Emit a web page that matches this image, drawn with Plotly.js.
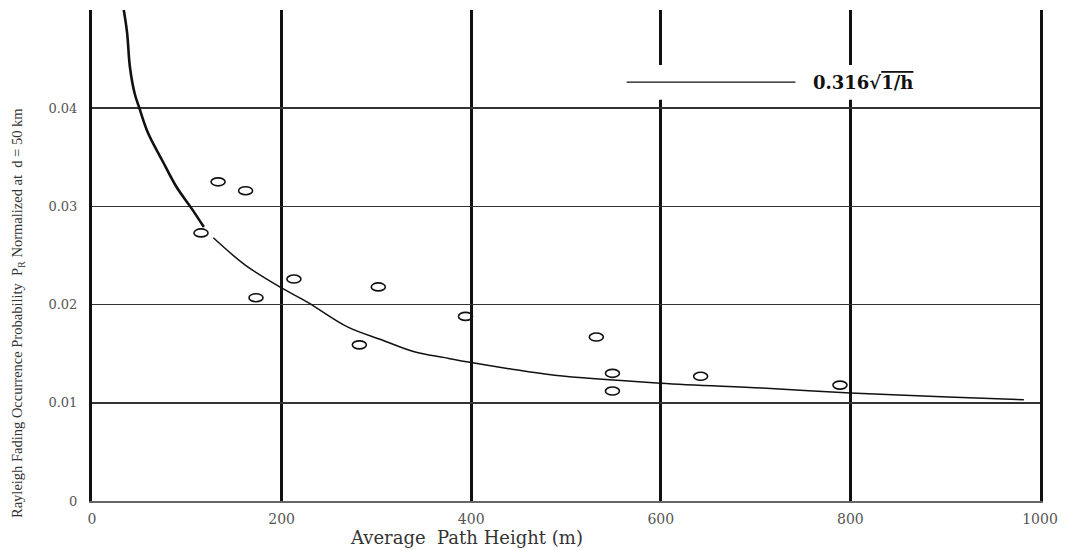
<!DOCTYPE html>
<html>
<head>
<meta charset="utf-8">
<script src="https://cdn.plot.ly/plotly-3.0.1.min.js"></script>
<style>
  html, body { margin: 0; padding: 0; background: #fff; }
  #chart { width: 1075px; height: 550px; }
</style>
</head>
<body>
<div id="chart"></div>
<script>
// Fitted curve, steep part near the ground
const curveUpperH = [33, 37, 40, 45, 50, 59, 74, 89, 105, 118];
const curveUpperP = [0.0503, 0.0477, 0.0442, 0.0415, 0.0400, 0.0375, 0.0347, 0.0320, 0.0298, 0.0279];
// Fitted curve, remaining part
const curveLowerH = [128, 162, 200, 228, 270, 306, 340, 372, 400, 438, 488, 600, 707, 800, 903, 983];
const curveLowerP = [0.0268, 0.0240, 0.0217, 0.0202, 0.0177, 0.0164, 0.0152, 0.0146, 0.0141, 0.0135, 0.0128, 0.0120, 0.0115, 0.0110, 0.0106, 0.0103];

// Measured occurrence probabilities
const pathHeight = [133, 162, 115, 213, 173, 302, 282, 394, 532, 549, 549, 642, 789];
const probability = [0.0325, 0.0316, 0.0273, 0.0226, 0.0207, 0.0218, 0.0159, 0.0188, 0.0167, 0.0130, 0.0112, 0.0127, 0.0118];

const xTicks = [0, 200, 400, 600, 800, 1000];
const xTickText = ['0', '200', '400', '600', '800', '1000'];
const yTicks = [0, 0.01, 0.02, 0.03, 0.04];
const yTickText = ['0', '0.01', '0.02', '0.03', '0.04'];

const fitLabel = '<b>0.316√<span style="text-decoration:overline">1/h</span></b>';
const xTitle = 'Average\u00a0\u00a0Path Height (m)';
const yTitle = 'Rayleigh Fading Occurrence Probability\u00a0\u00a0P<sub>R</sub> Normalized at\u00a0\u00a0d = 50 km';

const traces = [
  { x: curveUpperH, y: curveUpperP, mode: 'lines', line: { color: '#111', width: 2.6, shape: 'spline', smoothing: 1 }, hoverinfo: 'skip', showlegend: false },
  { x: curveLowerH, y: curveLowerP, mode: 'lines', line: { color: '#111', width: 1.5, shape: 'spline', smoothing: 1 }, hoverinfo: 'skip', showlegend: false }
];

// Open elliptical markers anchored on the data values
const shapes = pathHeight.map((h, i) => ({
  type: 'circle', xref: 'x', yref: 'y',
  xsizemode: 'pixel', ysizemode: 'pixel',
  xanchor: h, yanchor: probability[i],
  x0: -7, x1: 7, y0: -4, y1: 4,
  line: { color: '#111', width: 1.6 }, fillcolor: 'rgba(0,0,0,0)'
}));

// Key box: white backing, then the sample line
shapes.push({ type: 'rect', xref: 'paper', yref: 'paper', x0: 0.552, x1: 0.916, y0: 0.817, y1: 0.888,
  line: { width: 0 }, fillcolor: '#fff', layer: 'above' });
shapes.push({ type: 'line', xref: 'paper', yref: 'paper', x0: 0.564, x1: 0.742, y0: 0.853, y1: 0.853,
  line: { color: '#111', width: 1.2 }, layer: 'above' });

const layout = {
  width: 1075, height: 550,
  margin: { l: 92, r: 35, t: 10, b: 49 },
  paper_bgcolor: '#fff', plot_bgcolor: '#fff',
  showlegend: false,
  xaxis: {
    range: [0, 1000], tickvals: xTicks, ticktext: xTickText,
    tickfont: { family: 'DejaVu Serif', size: 14, color: '#555' },
    showgrid: true, gridcolor: '#111', gridwidth: 3,
    showline: true, linecolor: '#666', linewidth: 1.5,
    zeroline: false, ticks: '', ticklabelstandoff: 5, fixedrange: true
  },
  yaxis: {
    range: [0, 0.05], tickvals: yTicks, ticktext: yTickText,
    tickfont: { family: 'DejaVu Serif', size: 13, color: '#555' },
    showgrid: true, gridcolor: '#333', gridwidth: 1.5,
    showline: true, linecolor: '#111', linewidth: 3, mirror: true,
    zeroline: false, ticks: '', ticklabelstandoff: 9, fixedrange: true
  },
  shapes: shapes,
  annotations: [
    { xref: 'paper', yref: 'paper', x: 0.758, y: 0.853, xanchor: 'left', yanchor: 'middle',
      text: fitLabel, showarrow: false, font: { family: 'DejaVu Serif', size: 18, color: '#111' } },
    { xref: 'paper', yref: 'paper', x: 0.395, y: -0.075, xanchor: 'center', yanchor: 'middle',
      text: xTitle, showarrow: false, font: { family: 'DejaVu Serif', size: 18, color: '#333' } },
    { xref: 'paper', yref: 'paper', x: -0.078, y: 0.383, xanchor: 'center', yanchor: 'middle',
      textangle: -90, text: yTitle, showarrow: false, font: { family: 'Liberation Serif', size: 14.5, color: '#333' } }
  ]
};

Plotly.newPlot('chart', traces, layout, { displayModeBar: false, staticPlot: true });
</script>
</body>
</html>
